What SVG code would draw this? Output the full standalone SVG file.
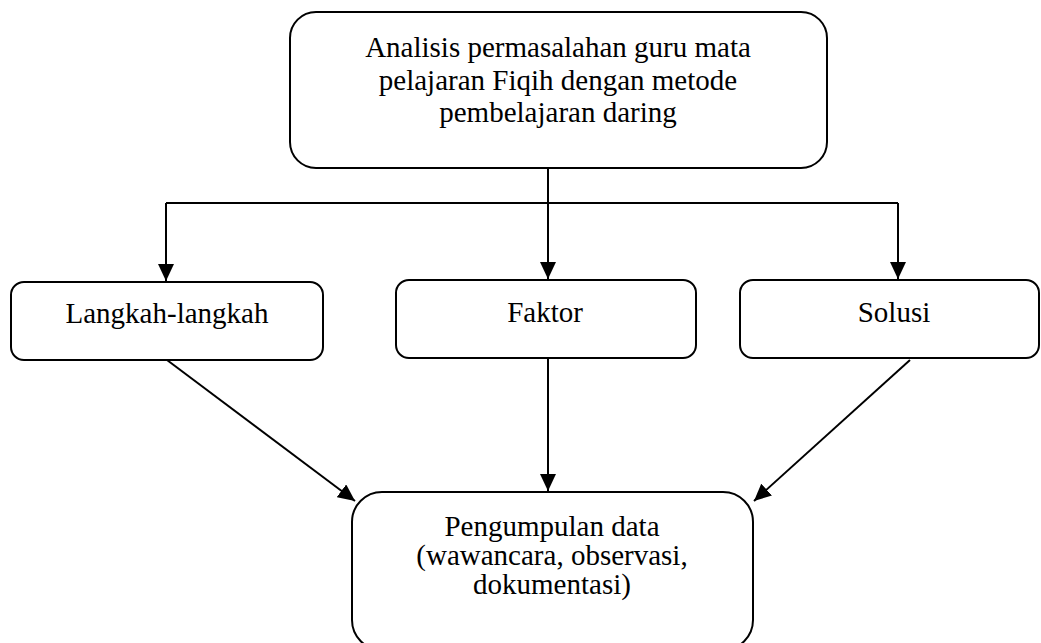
<svg xmlns="http://www.w3.org/2000/svg" width="1041" height="643" viewBox="0 0 1041 643">
<style>
.box{fill:#fff;stroke:#000;stroke-width:2}
.lbl{font-family:"Liberation Serif","Times New Roman",serif;font-size:29px;fill:#000;text-anchor:middle}
.conn{fill:none;stroke:#000;stroke-width:2}
</style>
<defs>
<marker id="ah" markerUnits="userSpaceOnUse" markerWidth="18" markerHeight="16" viewBox="0 0 18 16" refX="17" refY="8" orient="auto">
<path d="M0,0 L17,8 L0,16 Z" fill="#000"/>
</marker>
</defs>
<rect width="1041" height="643" fill="#fff"/>
<g id="connectors">
<path class="conn" d="M548,168 V203"/>
<path class="conn" d="M166,203 H898"/>
<path class="conn" d="M166,203 V281" marker-end="url(#ah)"/>
<path class="conn" d="M548,203 V279" marker-end="url(#ah)"/>
<path class="conn" d="M898,203 V279" marker-end="url(#ah)"/>
<path class="conn" d="M167,360 L355,501" marker-end="url(#ah)"/>
<path class="conn" d="M548,358 V491" marker-end="url(#ah)"/>
<path class="conn" d="M910,360 L754,501" marker-end="url(#ah)"/>
</g>
<g id="node-analisis">
<rect class="box" x="290" y="12" width="537" height="156" rx="26"/>
<text class="lbl" x="558" y="57">Analisis permasalahan guru mata</text>
<text class="lbl" x="558" y="90">pelajaran Fiqih dengan metode</text>
<text class="lbl" x="558" y="122">pembelajaran daring</text>
</g>
<g id="node-langkah">
<rect class="box" x="11" y="282" width="312" height="78" rx="13"/>
<text class="lbl" x="167" y="323">Langkah-langkah</text>
</g>
<g id="node-faktor">
<rect class="box" x="396" y="280" width="300" height="78" rx="13"/>
<text class="lbl" x="545" y="322">Faktor</text>
</g>
<g id="node-solusi">
<rect class="box" x="740" y="280" width="299" height="78" rx="13"/>
<text class="lbl" x="894" y="322">Solusi</text>
</g>
<g id="node-pengumpulan">
<rect class="box" x="352" y="492" width="401" height="158" rx="30"/>
<text class="lbl" x="552" y="536">Pengumpulan data</text>
<text class="lbl" x="552" y="565">(wawancara, observasi,</text>
<text class="lbl" x="552" y="594">dokumentasi)</text>
</g>
</svg>
